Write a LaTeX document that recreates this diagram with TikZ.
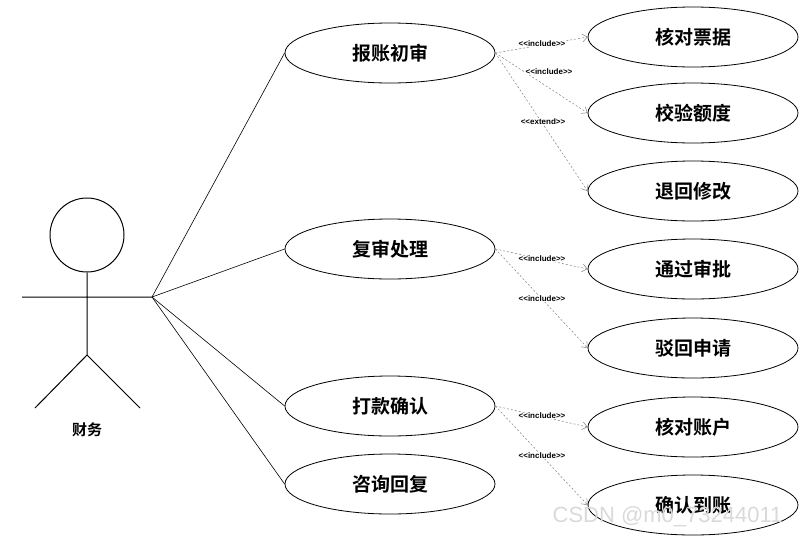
\documentclass[tikz,border=0pt]{standalone}
\usepackage{fontspec}
\setmainfont{Liberation Sans}
\newfontfamily\cjk{Noto Sans CJK SC Bold}
\usetikzlibrary{shapes.geometric,arrows.meta}
\newcommand{\stt}[1]{{<}{<}#1{>}{>}}
\begin{document}
\begin{tikzpicture}[x=1pt,y=-1pt,
  uc/.style={ellipse,draw,line width=0.8pt,minimum width=210pt,minimum height=60pt,font=\cjk\fontsize{19}{19}\selectfont},
  dep/.style={draw=gray,dashed,dash pattern=on 2pt off 2pt,line width=0.5pt,-{Straight Barb[length=5pt,width=8pt]}},
  lab/.style={fill=white,inner sep=0.5pt,font=\bfseries\fontsize{8}{8}\selectfont},
  ln/.style={line width=0.6pt}]
\useasboundingbox (0,0) rectangle (802,541);
\node[circle,draw,line width=1pt,minimum size=74pt,inner sep=0] (head) at (87,235) {};
\coordinate (hip) at (87,355);
\coordinate (la) at (22,297);
\coordinate (hand) at (152,297);
\coordinate (lf) at (35,408);
\coordinate (rf) at (140,408);
\draw[line width=1pt] (head.south) -- (hip) (la) -- (hand) (hip) -- (lf) (hip) -- (rf);
\node[font=\cjk\fontsize{15}{15}\selectfont] (actor) at (87,430) {财务};
\node[uc] (a) at (390,53) {报账初审};
\node[uc] (b) at (390,249) {复审处理};
\node[uc] (c) at (390,406) {打款确认};
\node[uc] (d) at (390,484) {咨询回复};
\node[uc] (r1) at (693,37) {核对票据};
\node[uc] (r2) at (693,113) {校验额度};
\node[uc] (r3) at (693,191) {退回修改};
\node[uc] (r4) at (693,269) {通过审批};
\node[uc] (r5) at (693,348) {驳回申请};
\node[uc] (r6) at (693,427) {核对账户};
\node[uc] (r7) at (693,505) {确认到账};
\foreach \n in {a,b,c,d} \draw[ln] (hand) -- (\n.west);
\draw[dep] (a.east) -- (r1.west);
\draw[dep] (a.east) -- (r2.west);
\draw[dep] (a.east) -- (r3.west);
\draw[dep] (b.east) -- (r4.west);
\draw[dep] (b.east) -- (r5.west);
\draw[dep] (c.east) -- (r6.west);
\draw[dep] (c.east) -- (r7.west);
\node[lab] (l1) at (542,44) {\stt{include}};
\node[lab] (l2) at (549,72) {\stt{include}};
\node[lab] (l3) at (543,122) {\stt{extend}};
\node[lab] (l4) at (542,259) {\stt{include}};
\node[lab] (l5) at (542,299) {\stt{include}};
\node[lab] (l6) at (542,416) {\stt{include}};
\node[lab] (l7) at (542,456) {\stt{include}};
\node[text=gray!30,font=\fontsize{22}{22}\selectfont,anchor=east] (wm) at (786,517) {CSDN @m0\_73244011};
\end{tikzpicture}
\end{document}
